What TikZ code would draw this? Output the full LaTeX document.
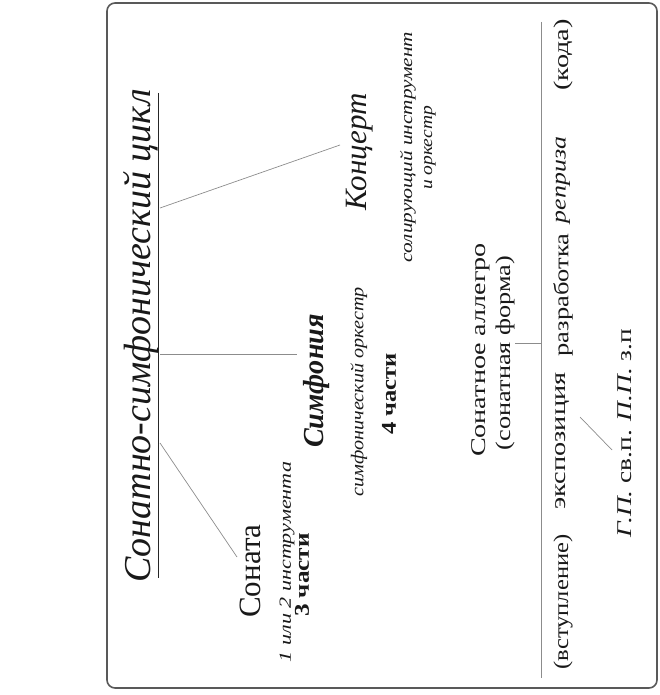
\documentclass[tikz,border=0pt]{standalone}
\usepackage{fontspec}
\usepackage{graphicx}
\setmainfont{Liberation Serif}
\newcommand{\strch}[2]{\scalebox{#1}[1]{#2}}
\begin{document}
\begin{tikzpicture}[x=1pt,y=-1pt,
  lbl/.style={rotate=90,inner sep=0pt,anchor=center,text=black!90},
  conn/.style={draw=black!45,line width=0.7pt},
  frame/.style={draw=black!65,line width=1.6pt,rounded corners=8pt}]
\useasboundingbox (0,0) rectangle (659,695);
\draw[frame] (107,3) rectangle (657,688);
% title
\node[lbl,font=\fontsize{38}{40}\selectfont\itshape] (title) at (141,336) {Сонатно-симфонический цикл};
\draw[line width=0.9pt,black!85] (158,93) -- (158,578);
% sonata
\node[lbl,font=\fontsize{31}{33}\selectfont] (sonata) at (250,571) {Соната};
\node[lbl,font=\fontsize{17}{18}\selectfont\itshape] (sonins) at (287,562) {\strch{1.3}{1 или 2 инструмента}};
\node[lbl,font=\fontsize{21}{22}\selectfont\bfseries] (sonpart) at (302,575) {\strch{1.2}{3 части}};
% symphony
\node[lbl,font=\fontsize{29}{31}\selectfont\itshape\bfseries] (symph) at (317,381) {\strch{0.97}{Симфония}};
\node[lbl,font=\fontsize{18}{19}\selectfont\itshape] (symorch) at (359,392) {\strch{1.12}{симфонический оркестр}};
\node[lbl,font=\fontsize{21}{22}\selectfont\bfseries] (sympart) at (389,394) {\strch{1.17}{4 части}};
% concerto
\node[lbl,font=\fontsize{31}{33}\selectfont\itshape] (conc) at (360,152) {Концерт};
\node[lbl,font=\fontsize{17}{18}\selectfont\itshape] (concsolo) at (408,147) {\strch{1.25}{солирующий инструмент}};
\node[lbl,font=\fontsize{17}{18}\selectfont\itshape] (concorch) at (430,148) {\strch{1.15}{и оркестр}};
% sonata allegro
\node[lbl,font=\fontsize{21}{22}\selectfont] (allegro) at (481,350) {\strch{1.34}{Сонатное аллегро}};
\node[lbl,font=\fontsize{21}{22}\selectfont] (sform) at (505,353) {\strch{1.25}{(сонатная форма)}};
% row
\node[lbl,font=\fontsize{21}{22}\selectfont] (intro) at (563,602) {\strch{1.17}{(вступление)}};
\node[lbl,font=\fontsize{21}{22}\selectfont] (expo) at (563,441) {\strch{1.35}{экспозиция}};
\node[lbl,font=\fontsize{21}{22}\selectfont] (devel) at (563,295) {\strch{1.26}{разработка}};
\node[lbl,font=\fontsize{21}{22}\selectfont\itshape] (recap) at (563,180) {\strch{1.23}{реприза}};
\node[lbl,font=\fontsize{21}{22}\selectfont] (coda) at (563,55) {\strch{1.35}{(кода)}};
\node[lbl,font=\fontsize{21}{22}\selectfont] (themes) at (625,433) {\strch{1.3}{\textit{Г.П.} св.п. \textit{П.П.} з.п}};
% connectors
\coordinate (u1) at (160,208);
\coordinate (u2) at (160,354);
\coordinate (u3) at (160,443);
\coordinate (c1) at (340,145);
\coordinate (c2) at (297,354);
\coordinate (c3) at (237,557);
\draw[conn] (u1) -- (c1);
\draw[conn] (u2) -- (c2);
\draw[conn] (u3) -- (c3);
\coordinate (a1) at (515,343);
\coordinate (a2) at (541,343);
\coordinate (vtop) at (541,22);
\coordinate (vbot) at (541,678);
\draw[conn] (a1) -- (a2);
\draw[conn] (vtop) -- (vbot);
\coordinate (e1) at (580,417);
\coordinate (e2) at (612,450);
\draw[conn] (e1) -- (e2);
\end{tikzpicture}
\end{document}
